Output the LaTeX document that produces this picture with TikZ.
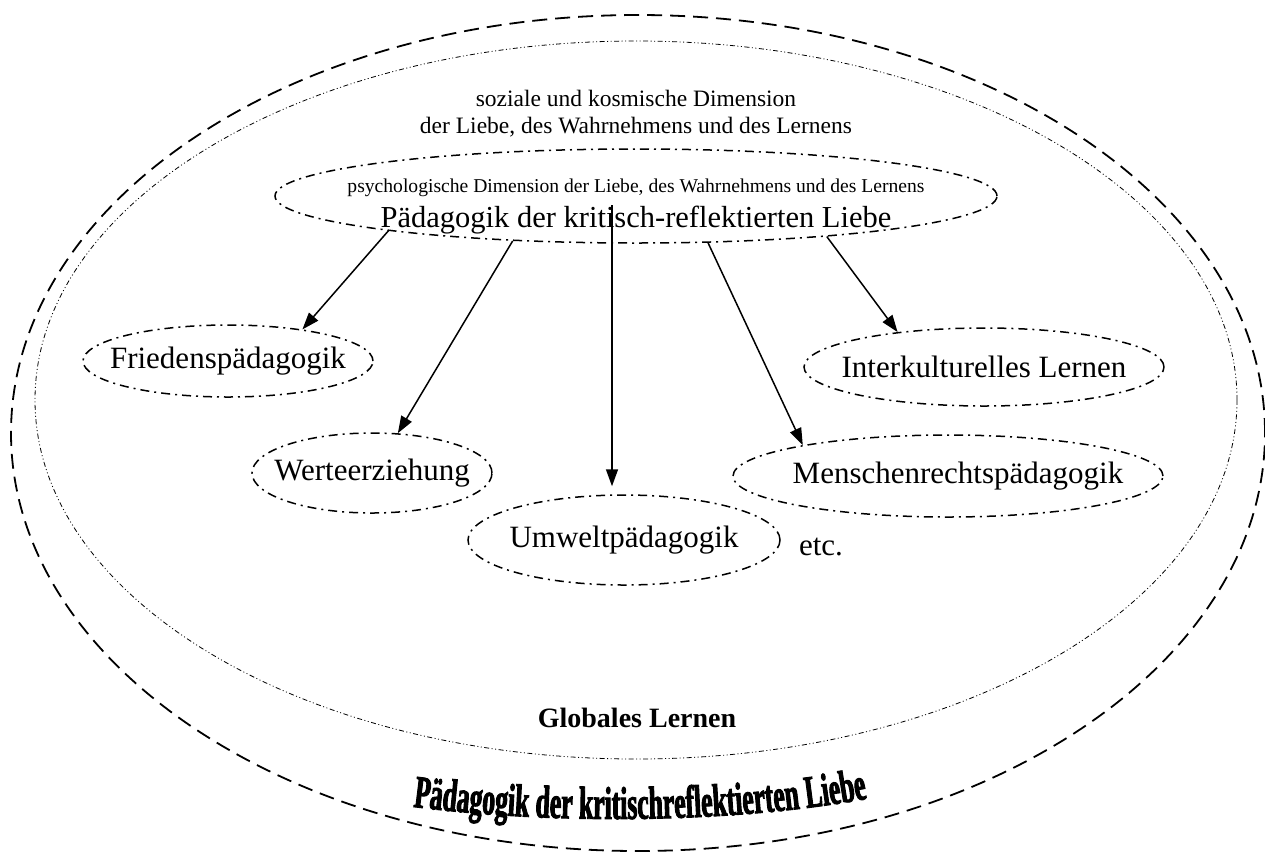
\documentclass[tikz,border=0pt]{standalone}
\usepackage{fontspec}
\setmainfont{Liberation Serif}
\newfontfamily\archfont{Liberation Serif}[FakeStretch=0.56,FakeBold=2]
\usetikzlibrary{arrows.meta,shapes.geometric,decorations.text}
\tikzset{
  outerline/.style={draw, line width=1.8pt, dash pattern=on 15pt off 8pt},
  innerline/.style={draw, line width=0.8pt, dash pattern=on 5pt off 2.5pt on 1pt off 2.5pt on 1pt off 2.5pt},
  dashdotline/.style={draw, line width=1.5pt, dash pattern=on 9pt off 5pt on 2pt off 5pt},
  bub/.style={ellipse, dashdotline, inner sep=0pt, font=\fontsize{31}{36}\selectfont},
  arr/.style={line width=1.5pt, -{Triangle[length=17pt,width=12pt]}},
  plain/.style={inner sep=0pt},
}
\begin{document}
\begin{tikzpicture}[x=1pt,y=-1pt]
\useasboundingbox (0,0) rectangle (1265,852);
\node[ellipse, outerline, inner sep=0pt, minimum width=1254pt, minimum height=836pt] (outer) at (638,433) {};
\node[ellipse, innerline, inner sep=0pt, minimum width=1202pt, minimum height=718pt] (inner) at (636,400) {};
\node[ellipse, dashdotline, inner sep=0pt, minimum width=722pt, minimum height=94pt] (top) at (636,196) {};

\node[plain, font=\fontsize{23.5}{27}\selectfont, align=center] (soz) at (636,114)
  {soziale und kosmische Dimension\\der Liebe, des Wahrnehmens und des Lernens};
\node[plain, font=\fontsize{19.6}{22}\selectfont, anchor=base] (psy) at (636,192)
  {psychologische Dimension der Liebe, des Wahrnehmens und des Lernens};
\node[plain, font=\fontsize{30.5}{34}\selectfont, anchor=base] (ped) at (636,227)
  {Pädagogik der kritisch-reflektierten Liebe};

\node[bub, minimum width=290pt, minimum height=72pt] (fried) at (228,361) {\makebox[0pt]{Friedenspädagogik}};
\node[bub, minimum width=240pt, minimum height=80pt] (wert) at (372,473) {\makebox[0pt]{Werteerziehung}};
\node[bub, minimum width=312pt, minimum height=90pt] (umw) at (624,540) {\makebox[0pt]{Umweltpädagogik}};
\node[plain, font=\fontsize{31}{36}\selectfont] (etc) at (821,547) {etc.};
\node[bub, minimum width=430pt, minimum height=82pt] (mensch) at (948,476) {\makebox[0pt]{\kern20pt Menschenrechtspädagogik}};
\node[bub, minimum width=360pt, minimum height=78pt] (inter) at (984,367) {\makebox[0pt]{Interkulturelles Lernen}};

\node[plain, font=\bfseries\fontsize{28}{32}\selectfont] (glob) at (637,718) {Globales Lernen};

\coordinate (s3) at (612,205);
\draw[arr] (top.188) -- (fried.23);
\draw[arr] (top.200) -- (wert.57);
\draw[arr] (s3) -- ([yshift=8pt]s3 |- umw.north);
\draw[arr] (top.327) -- (mensch.168.5);
\draw[arr] (top.348) -- (inter.158);

\path[decorate, decoration={text along path, text align=center,
  text={|\archfont\bfseries\fontsize{46}{46}\selectfont|Pädagogik der kritischreflektierten Liebe}}]
  (380,802) .. controls (530,826) and (750,826) .. (900,792);
\end{tikzpicture}
\end{document}
